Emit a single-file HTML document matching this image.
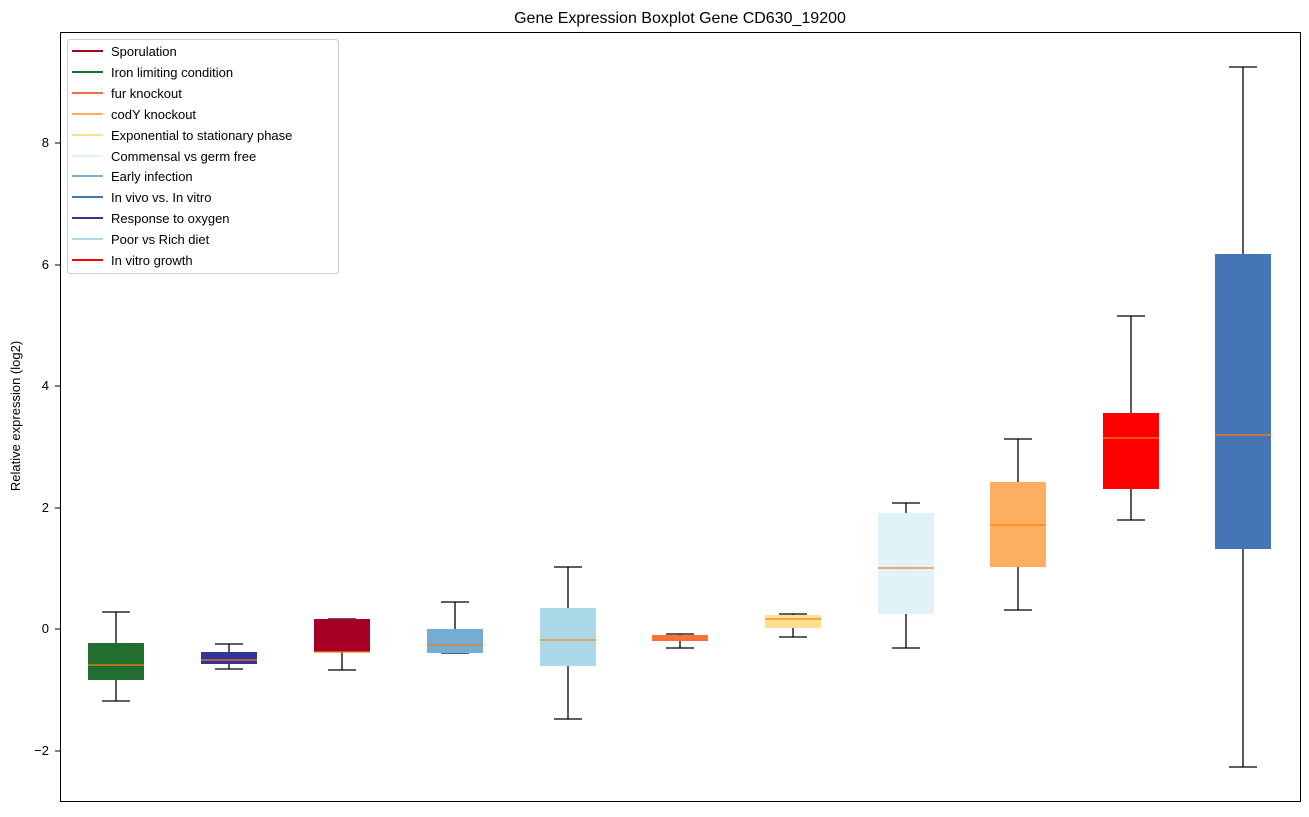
<!DOCTYPE html><html><head><style>body{margin:0;background:#fff}</style></head><body>
<svg width="1309" height="812" xmlns="http://www.w3.org/2000/svg" font-family="Liberation Sans, sans-serif">
<rect width="1309" height="812" fill="#fff"/>
<text x="680" y="23" font-size="16" text-anchor="middle">Gene Expression Boxplot Gene CD630_19200</text>
<g font-size="13" text-anchor="end">
<text x="49" y="147">8</text><text x="49" y="269">6</text><text x="49" y="390">4</text><text x="49" y="512">2</text><text x="49" y="633">0</text><text x="49" y="755">−2</text></g>
<g stroke="#000"><line x1="55" y1="143" x2="60" y2="143"/><line x1="55" y1="265" x2="60" y2="265"/><line x1="55" y1="386" x2="60" y2="386"/><line x1="55" y1="508" x2="60" y2="508"/><line x1="55" y1="629" x2="60" y2="629"/><line x1="55" y1="751" x2="60" y2="751"/></g>
<text transform="translate(20,416) rotate(-90)" font-size="13" text-anchor="middle">Relative expression (log2)</text>
<g stroke-width="1.3">
<line x1="116" y1="612" x2="116" y2="701" stroke="#000"/><line x1="102" y1="612" x2="130" y2="612" stroke="#000"/><line x1="102" y1="701" x2="130" y2="701" stroke="#000"/><rect x="88" y="643" width="56" height="37" fill="#226e30"/><line x1="88" y1="665" x2="144" y2="665" stroke="#ff7f0e"/>
<line x1="229" y1="644" x2="229" y2="669" stroke="#000"/><line x1="215" y1="644" x2="243" y2="644" stroke="#000"/><line x1="215" y1="669" x2="243" y2="669" stroke="#000"/><rect x="201" y="652" width="56" height="12" fill="#313695"/><line x1="201" y1="660" x2="257" y2="660" stroke="#ff7f0e"/>
<line x1="342" y1="619" x2="342" y2="670" stroke="#000"/><line x1="328" y1="619" x2="356" y2="619" stroke="#000"/><line x1="328" y1="670" x2="356" y2="670" stroke="#000"/><rect x="314" y="619" width="56" height="33" fill="#a50026"/><line x1="314" y1="652" x2="370" y2="652" stroke="#ff7f0e"/>
<line x1="455" y1="602" x2="455" y2="653" stroke="#000"/><line x1="441" y1="602" x2="469" y2="602" stroke="#000"/><line x1="441" y1="653" x2="469" y2="653" stroke="#000"/><rect x="427" y="629" width="56" height="24" fill="#74add1"/><line x1="427" y1="645" x2="483" y2="645" stroke="#ff7f0e"/>
<line x1="568" y1="567" x2="568" y2="719" stroke="#000"/><line x1="554" y1="567" x2="582" y2="567" stroke="#000"/><line x1="554" y1="719" x2="582" y2="719" stroke="#000"/><rect x="540" y="608" width="56" height="58" fill="#abd9e9"/><line x1="540" y1="640" x2="596" y2="640" stroke="#ff7f0e"/>
<line x1="680" y1="634" x2="680" y2="648" stroke="#000"/><line x1="666" y1="634" x2="694" y2="634" stroke="#000"/><line x1="666" y1="648" x2="694" y2="648" stroke="#000"/><rect x="652" y="635" width="56" height="6" fill="#f46d43"/><line x1="652" y1="637" x2="708" y2="637" stroke="#ff7f0e"/>
<line x1="793" y1="614" x2="793" y2="637" stroke="#000"/><line x1="779" y1="614" x2="807" y2="614" stroke="#000"/><line x1="779" y1="637" x2="807" y2="637" stroke="#000"/><rect x="765" y="615" width="56" height="13" fill="#fee090"/><line x1="765" y1="619" x2="821" y2="619" stroke="#ff7f0e"/>
<line x1="906" y1="503" x2="906" y2="648" stroke="#000"/><line x1="892" y1="503" x2="920" y2="503" stroke="#000"/><line x1="892" y1="648" x2="920" y2="648" stroke="#000"/><rect x="878" y="513" width="56" height="101" fill="#e0f3f8"/><line x1="878" y1="568" x2="934" y2="568" stroke="#ff7f0e"/>
<line x1="1018" y1="439" x2="1018" y2="610" stroke="#000"/><line x1="1004" y1="439" x2="1032" y2="439" stroke="#000"/><line x1="1004" y1="610" x2="1032" y2="610" stroke="#000"/><rect x="990" y="482" width="56" height="85" fill="#fdae61"/><line x1="990" y1="525" x2="1046" y2="525" stroke="#ff7f0e"/>
<line x1="1131" y1="316" x2="1131" y2="520" stroke="#000"/><line x1="1117" y1="316" x2="1145" y2="316" stroke="#000"/><line x1="1117" y1="520" x2="1145" y2="520" stroke="#000"/><rect x="1103" y="413" width="56" height="76" fill="#ff0000"/><line x1="1103" y1="438" x2="1159" y2="438" stroke="#ff7f0e"/>
<line x1="1243" y1="67" x2="1243" y2="767" stroke="#000"/><line x1="1229" y1="67" x2="1257" y2="67" stroke="#000"/><line x1="1229" y1="767" x2="1257" y2="767" stroke="#000"/><rect x="1215" y="254" width="56" height="295" fill="#4575b4"/><line x1="1215" y1="435" x2="1271" y2="435" stroke="#ff7f0e"/>
</g>
<rect x="60.5" y="32.5" width="1240" height="769" fill="none" stroke="#000"/>
<rect x="67.5" y="39.5" width="271" height="234" fill="#fff" stroke="#ccc" rx="3"/>
<g font-size="13" stroke-width="2">
<line x1="72" y1="51" x2="103" y2="51" stroke="#a50026"/><text x="111" y="56">Sporulation</text>
<line x1="72" y1="72" x2="103" y2="72" stroke="#226e30"/><text x="111" y="77">Iron limiting condition</text>
<line x1="72" y1="93" x2="103" y2="93" stroke="#f46d43"/><text x="111" y="98">fur knockout</text>
<line x1="72" y1="114" x2="103" y2="114" stroke="#fdae61"/><text x="111" y="119">codY knockout</text>
<line x1="72" y1="135" x2="103" y2="135" stroke="#fee090"/><text x="111" y="140">Exponential to stationary phase</text>
<line x1="72" y1="156" x2="103" y2="156" stroke="#e0f3f8"/><text x="111" y="161">Commensal vs germ free</text>
<line x1="72" y1="176" x2="103" y2="176" stroke="#74add1"/><text x="111" y="181">Early infection</text>
<line x1="72" y1="197" x2="103" y2="197" stroke="#4575b4"/><text x="111" y="202">In vivo vs. In vitro</text>
<line x1="72" y1="218" x2="103" y2="218" stroke="#313695"/><text x="111" y="223">Response to oxygen</text>
<line x1="72" y1="239" x2="103" y2="239" stroke="#abd9e9"/><text x="111" y="244">Poor vs Rich diet</text>
<line x1="72" y1="260" x2="103" y2="260" stroke="#ff0000"/><text x="111" y="265">In vitro growth</text>
</g>
</svg></body></html>
